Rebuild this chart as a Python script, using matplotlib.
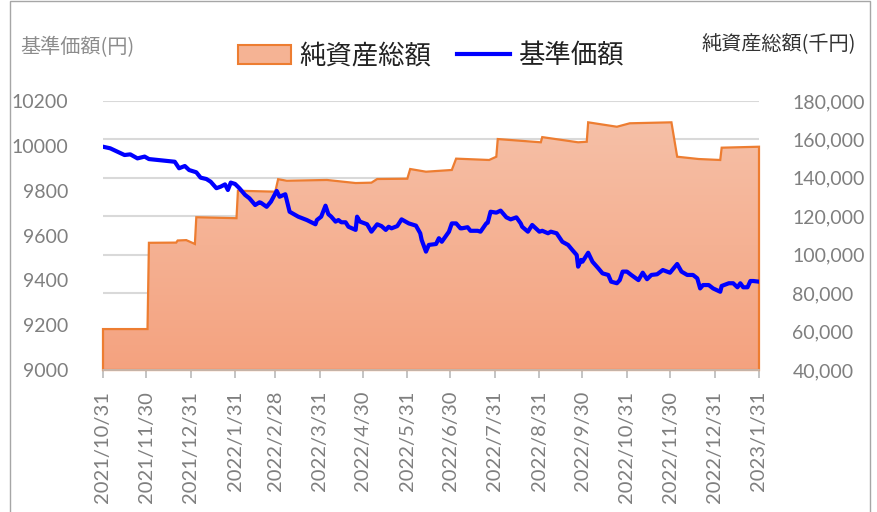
import matplotlib
matplotlib.use('Agg')
import matplotlib.pyplot as plt
import matplotlib.dates as mdates
import numpy as np
import pandas as pd
from matplotlib.patches import Rectangle, Patch, Polygon
from matplotlib.lines import Line2D
from matplotlib.colors import LinearSegmentedColormap
from matplotlib.ticker import FuncFormatter

plt.rcParams['font.family'] = ['Lato', 'Noto Sans CJK JP', 'DejaVu Sans']

# ---- data: 基準価額 (円) ----
nav_dates = [
    '2021-10-31', '2021-11-05', '2021-11-10', '2021-11-15', '2021-11-19', '2021-11-24', '2021-11-29',
    '2021-12-02', '2021-12-08', '2021-12-15', '2021-12-20', '2021-12-23', '2021-12-27', '2021-12-30',
    '2022-01-04', '2022-01-07', '2022-01-11', '2022-01-14', '2022-01-18', '2022-01-21', '2022-01-24',
    '2022-01-26', '2022-01-28', '2022-01-31', '2022-02-03', '2022-02-07', '2022-02-10', '2022-02-14',
    '2022-02-17', '2022-02-18', '2022-02-22', '2022-02-25', '2022-03-01', '2022-03-03', '2022-03-07',
    '2022-03-08', '2022-03-10', '2022-03-14', '2022-03-16', '2022-03-18', '2022-03-22', '2022-03-28',
    '2022-03-29', '2022-04-01', '2022-04-04', '2022-04-06', '2022-04-08', '2022-04-11', '2022-04-13',
    '2022-04-15', '2022-04-18', '2022-04-20', '2022-04-25', '2022-04-26', '2022-04-28', '2022-05-03',
    '2022-05-06', '2022-05-10', '2022-05-13', '2022-05-16', '2022-05-18', '2022-05-20', '2022-05-24',
    '2022-05-27', '2022-06-01', '2022-06-06', '2022-06-09', '2022-06-10', '2022-06-13', '2022-06-15',
    '2022-06-20', '2022-06-22', '2022-06-24', '2022-06-29', '2022-07-01', '2022-07-04', '2022-07-07',
    '2022-07-08', '2022-07-12', '2022-07-14', '2022-07-19', '2022-07-21', '2022-07-25', '2022-07-26',
    '2022-07-28', '2022-08-01', '2022-08-04', '2022-08-08', '2022-08-11', '2022-08-15', '2022-08-18',
    '2022-08-19', '2022-08-23', '2022-08-26', '2022-08-31', '2022-09-02', '2022-09-06', '2022-09-08',
    '2022-09-12', '2022-09-16', '2022-09-20', '2022-09-23', '2022-09-26', '2022-09-27', '2022-09-29',
    '2022-09-30', '2022-10-04', '2022-10-07', '2022-10-11', '2022-10-14', '2022-10-18', '2022-10-20',
    '2022-10-24', '2022-10-26', '2022-10-28', '2022-10-31', '2022-11-03', '2022-11-08', '2022-11-11',
    '2022-11-14', '2022-11-17', '2022-11-21', '2022-11-25', '2022-11-30', '2022-12-05', '2022-12-08',
    '2022-12-12', '2022-12-16', '2022-12-19', '2022-12-21', '2022-12-23', '2022-12-27', '2022-12-30',
    '2023-01-04', '2023-01-05', '2023-01-10', '2023-01-13', '2023-01-16', '2023-01-18', '2023-01-20',
    '2023-01-23', '2023-01-25', '2023-01-27', '2023-01-31',
]
nav_values = [
    9996, 9989, 9974, 9959, 9962, 9944, 9952,
    9941, 9937, 9932, 9929, 9900, 9910, 9892,
    9882, 9858, 9852, 9840, 9811, 9818, 9828,
    9803, 9836, 9830, 9811, 9781, 9766, 9736,
    9748, 9746, 9728, 9751, 9799, 9773, 9784,
    9758, 9706, 9691, 9684, 9679, 9669, 9650,
    9669, 9684, 9733, 9695, 9684, 9662, 9669,
    9659, 9659, 9639, 9625, 9684, 9662, 9650,
    9617, 9650, 9642, 9625, 9639, 9632, 9642,
    9672, 9654, 9644, 9610, 9580, 9528, 9558,
    9562, 9588, 9572, 9617, 9654, 9654, 9632,
    9632, 9637, 9621, 9621, 9617, 9654, 9657,
    9706, 9702, 9711, 9681, 9672, 9681, 9654,
    9639, 9617, 9647, 9617, 9621, 9610, 9617,
    9610, 9572, 9558, 9535, 9513, 9461, 9491,
    9483, 9523, 9483, 9454, 9431, 9424, 9394,
    9387, 9401, 9439, 9439, 9424, 9401, 9434,
    9405, 9424, 9427, 9446, 9434, 9473, 9439,
    9424, 9424, 9409, 9364, 9379, 9379, 9364,
    9349, 9375, 9387, 9387, 9369, 9387, 9369,
    9369, 9397, 9397, 9394,
]

# ---- data: 純資産総額 (千円) ----
asset_dates = [
    '2021-10-31', '2021-12-01', '2021-12-02', '2021-12-21', '2021-12-22', '2021-12-28', '2022-01-03',
    '2022-01-04', '2022-02-01', '2022-02-02', '2022-02-28', '2022-03-02', '2022-03-08', '2022-04-05',
    '2022-04-25', '2022-05-06', '2022-05-10', '2022-05-31', '2022-06-02', '2022-06-13', '2022-07-01',
    '2022-07-04', '2022-07-27', '2022-08-01', '2022-08-02', '2022-09-01', '2022-09-02', '2022-09-27',
    '2022-10-03', '2022-10-04', '2022-10-24', '2022-11-02', '2022-12-01', '2022-12-05', '2022-12-20',
    '2023-01-04', '2023-01-05', '2023-01-31',
]
asset_values = [
    61300, 61300, 106200, 106300, 107400, 107600, 105600,
    119500, 119000, 133300, 132800, 139300, 138500, 138900,
    137300, 137500, 139400, 139550, 144600, 143200, 144100,
    150000, 149300, 151000, 160200, 158500, 161200, 158500,
    158800, 168900, 166600, 168400, 168900, 151000, 149800,
    149300, 155700, 156200,
]

tick_dates = ['2021-10-31', '2021-11-30', '2021-12-31', '2022-01-31', '2022-02-28', '2022-03-31',
              '2022-04-30', '2022-05-31', '2022-06-30', '2022-07-31', '2022-08-31', '2022-09-30',
              '2022-10-31', '2022-11-30', '2022-12-31', '2023-01-31']
tick_labels = ['2021/10/31', '2021/11/30', '2021/12/31', '2022/1/31', '2022/2/28', '2022/3/31',
               '2022/4/30', '2022/5/31', '2022/6/30', '2022/7/31', '2022/8/31', '2022/9/30',
               '2022/10/31', '2022/11/30', '2022/12/31', '2023/1/31']
left_ticks = [9000, 9200, 9400, 9600, 9800, 10000, 10200]
right_ticks = [40000, 60000, 80000, 100000, 120000, 140000, 160000, 180000]

W, H = 878, 512
fig = plt.figure(figsize=(W / 100, H / 100), dpi=100)
ax = fig.add_axes([103 / W, 1 - 370 / H, 656 / W, 269 / H])
ax2 = ax.twinx()

ad = mdates.date2num(pd.to_datetime(asset_dates))
nd = pd.to_datetime(nav_dates)
td = pd.to_datetime(tick_dates)
x0, x1 = mdates.date2num(td[0]), mdates.date2num(td[-1])
base = right_ticks[0]

# gradient area (純資産総額)
verts = [(ad[0], base)] + list(zip(ad, asset_values)) + [(ad[-1], base)]
poly = Polygon(verts, closed=True, facecolor='none', edgecolor='none', transform=ax.transData)
ax.add_patch(poly)
cmap = LinearSegmentedColormap.from_list('g', ['#f4a27f', '#f6c0a7'])
grad = np.linspace(0, 1, 256).reshape(-1, 1)
im = ax.imshow(grad, extent=[x0, x1, base, 170000], origin='lower', aspect='auto',
               cmap=cmap, zorder=1, interpolation='bicubic')
im.set_clip_path(poly)
edge = Polygon(verts, closed=True, facecolor='none', edgecolor='#ed7d31', lw=1.6,
               transform=ax.transData, zorder=2, clip_on=False, joinstyle='miter')
ax.add_patch(edge)

ax.set_xlim(x0, x1)
ax.set_ylim(right_ticks[0], right_ticks[-1])
ax.set_yticks(right_ticks)
ax.yaxis.set_major_formatter(FuncFormatter(lambda v, p: f'{int(v):,}'))
ax.yaxis.grid(True, color='#d9d9d9', lw=1.5)
ax.set_axisbelow(True)
ax.yaxis.tick_right()
ax.tick_params(axis='y', length=0, pad=24, labelcolor='#7f7f7f', labelsize=14)

ax.set_xticks(mdates.date2num(td))
ax.set_xticklabels(tick_labels, rotation=90)
ax.tick_params(axis='x', length=6, width=1.3, color='#bfbfbf', labelcolor='#7f7f7f',
               labelsize=14.5, pad=9)
for s in ['left', 'right', 'top']:
    ax.spines[s].set_visible(False)
ax.spines['bottom'].set_color('#bfbfbf')
ax.spines['bottom'].set_linewidth(1.2)

# 基準価額 line
ax2.plot(nd, nav_values, color='#0000ff', lw=3, solid_joinstyle='round', zorder=5)
ax2.set_ylim(left_ticks[0], left_ticks[-1])
ax2.set_yticks(left_ticks)
ax2.yaxis.tick_left()
ax2.tick_params(axis='y', length=0, pad=25, labelcolor='#7f7f7f', labelsize=14)
for s in ax2.spines.values():
    s.set_visible(False)
ax2.set_xlim(x0, x1)

# axis titles
fig.text(20 / W, 1 - 48 / H, '基準価額(円)', ha='left', va='center', color='#8c8c8c',
         fontsize=14.5, family=['Noto Sans CJK JP', 'DejaVu Sans'])
fig.text(856 / W, 1 - 45 / H, '純資産総額(千円)', ha='right', va='center', color='#333333',
         fontsize=14.5, family=['Noto Sans CJK JP', 'DejaVu Sans'])

# legend
handles = [Patch(facecolor='#f5b394', edgecolor='#ed7d31', lw=1.5),
           Line2D([0], [0], color='#0000ff', lw=3)]
leg = fig.legend(handles, ['純資産総額', '基準価額'], loc='center', ncol=2,
                 bbox_to_anchor=(431 / W, 1 - 56 / H), frameon=False,
                 prop={'family': ['Noto Sans CJK JP', 'DejaVu Sans'], 'size': 19},
                 handlelength=2.0, handleheight=0.7, handletextpad=0.3, columnspacing=1.0)
for t in leg.get_texts():
    t.set_color('#222222')

# outer border
fig.add_artist(Rectangle((10 / W, -0.05), 860 / W, 1.05 - 0.6 / H, transform=fig.transFigure,
                         fill=False, edgecolor='#a6a6a6', lw=1))

fig.savefig('out.png', dpi=100)
